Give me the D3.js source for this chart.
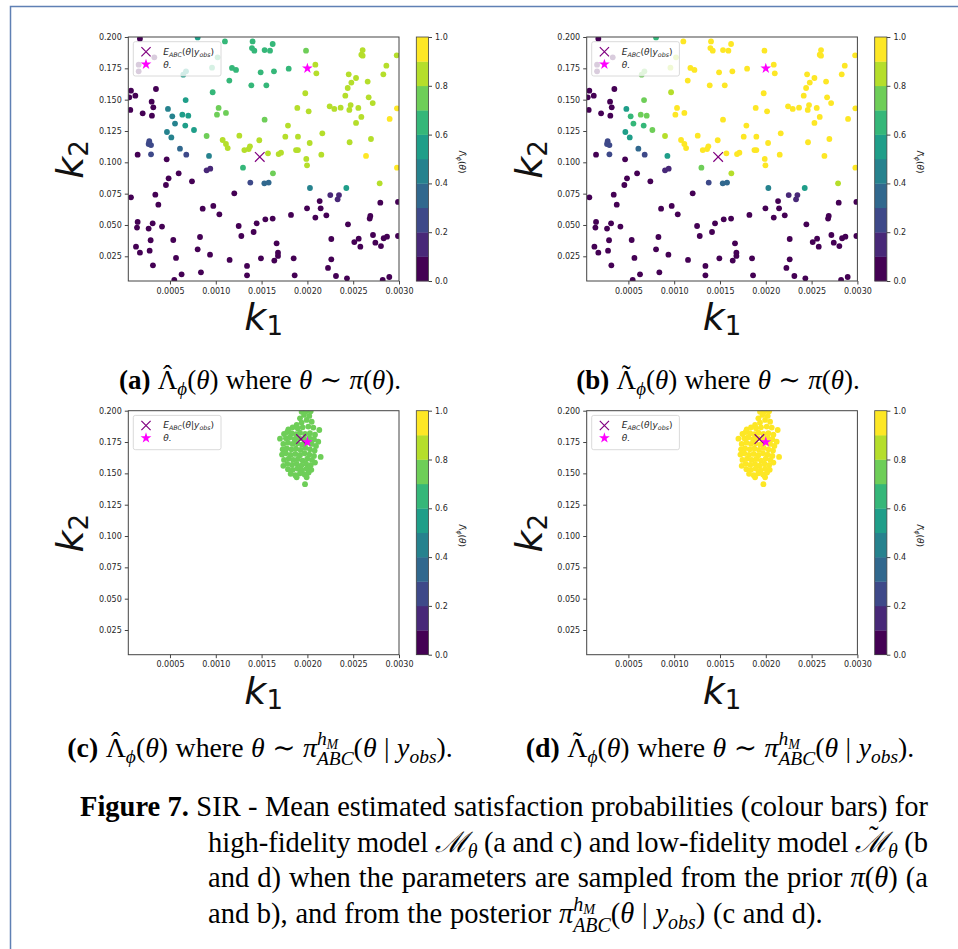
<!DOCTYPE html>
<html>
<head>
<meta charset="utf-8">
<script src="https://cdn.jsdelivr.net/npm/d3@7"></script>
<style>
  body { margin: 0; background: #fff; }
  svg text { font-family: "DejaVu Sans", sans-serif; }
  .cap text { font-family: "Liberation Serif", "DejaVu Serif", serif; fill: #000; }
</style>
</head>
<body>
<svg id="fig" width="958" height="949"></svg>
<script>
// prior samples, shared by (a) and (b)
var priorK1 = [
0.000172,0.000802,0.001100,0.001402,0.001395,0.001421,0.001533,0.001592,0.001621,0.001985,
0.002603,0.002589,0.002603,0.002975,0.002862,0.002829,0.002087,0.002098,0.001177,0.001221,
0.001148,0.001490,0.001635,0.001796,0.001388,0.001552,0.002451,0.002531,0.002480,0.002658,
0.002440,0.002414,0.002669,0.002713,0.002472,0.002458,0.002556,0.002978,0.002243,0.002294,
0.002363,0.001890,0.002014,0.002589,0.002531,0.002898,0.001977,0.001533,0.001788,0.002163,
0.001759,0.001897,0.002025,0.002694,0.002461,0.001876,0.001897,0.001686,0.001712,0.001570,
0.002152,0.002640,0.001988,0.001996,0.002978,0.002789,0.000966,0.001031,0.001013,0.001111,
0.001475,0.000900,0.001257,0.001075,0.001111,0.001130,0.001312,0.001359,0.001373,0.001297,
0.001624,0.000671,0.000478,0.000525,0.000635,0.000700,0.000555,0.000667,0.000762,0.000467,
0.000515,0.000609,0.000678,0.000274,0.000267,0.000293,0.000293,0.000926,0.000900,0.000940,
0.001377,0.001530,0.001577,0.002028,0.002425,0.002250,0.002345,0.002330,0.000158,0.000158,
0.000329,0.000675,0.000645,0.000959,0.001020,
0.000074,0.000056,0.000122,0.000067,0.000202,0.000347,0.000300,0.000318,0.000303,0.000147,
0.000464,0.000595,0.000485,0.000456,0.000740,0.000074,0.000340,0.000373,0.001202,0.000857,
0.000973,0.001039,0.000147,0.000140,0.000311,0.000267,0.000413,0.001250,0.001279,0.001413,
0.001446,0.001541,0.001621,0.000828,0.000536,0.000289,0.000129,0.000172,0.000278,0.000802,
0.000937,0.000566,0.001151,0.001493,0.001341,0.000314,0.000627,0.000838,0.001341,0.000547,
0.002134,0.002796,0.002989,0.001996,0.002145,0.002087,0.002207,0.001821,0.002443,0.002687,
0.002680,0.002989,0.002716,0.002833,0.002869,0.002742,0.002803,0.002261,0.002512,0.002560,
0.002578,0.001664,0.001679,0.001679,0.001639,0.001850,0.002261,0.002225,0.002312,0.001861,
0.002432,0.002822,0.002894
];
var priorK2 = [
0.1987,0.1997,0.1965,0.1965,0.1912,0.1891,0.1896,0.1891,0.1944,0.1891,
0.1896,0.1859,0.1851,0.1854,0.1771,0.1702,0.1779,0.1710,0.1753,0.1737,
0.1652,0.1718,0.1726,0.1747,0.1614,0.1614,0.1702,0.1673,0.1636,0.1644,
0.1593,0.1532,0.1519,0.1473,0.1457,0.1418,0.1434,0.1431,0.1447,0.1426,
0.1436,0.1434,0.1407,0.1362,0.1314,0.1346,0.1551,0.1340,0.1293,0.1231,
0.1205,0.1205,0.1154,0.1186,0.1160,0.1098,0.1098,0.1066,0.1077,0.1072,
0.1061,0.1051,0.1027,0.0976,0.0957,0.0832,0.1559,0.1434,0.1380,0.1394,
0.1176,0.1210,0.1213,0.1178,0.1146,0.1114,0.1098,0.1106,0.1128,0.0957,
0.0912,0.1497,0.1426,0.1367,0.1380,0.1372,0.1309,0.1293,0.1258,0.1242,
0.1199,0.1109,0.1061,0.1168,0.1146,0.1138,0.1064,0.1051,0.0936,0.0949,
0.0838,0.0832,0.0838,0.0795,0.0795,0.0739,0.0739,0.0705,0.1779,0.1726,
0.1838,0.1726,0.1699,0.1755,0.1838,
0.1572,0.1519,0.1532,0.1418,0.1391,0.1585,0.1484,0.1439,0.1372,0.1061,
0.1024,0.0912,0.0872,0.0819,0.0848,0.0721,0.0742,0.0662,0.0753,0.0630,
0.0652,0.0585,0.0524,0.0479,0.0513,0.0471,0.0487,0.0492,0.0412,0.0444,
0.0513,0.0545,0.0551,0.0404,0.0380,0.0378,0.0327,0.0279,0.0295,0.0306,
0.0263,0.0237,0.0221,0.0234,0.0173,0.0178,0.0106,0.0122,0.0098,0.0061,
0.0691,0.0678,0.0684,0.0633,0.0633,0.0559,0.0577,0.0580,0.0505,0.0572,
0.0551,0.0412,0.0420,0.0394,0.0407,0.0359,0.0332,0.0388,0.0364,0.0391,
0.0327,0.0354,0.0279,0.0253,0.0216,0.0234,0.0226,0.0157,0.0093,0.0098,
0.0074,0.0061,0.0085
];
// mean satisfaction probability, high-fidelity model (a)
var priorSatHF = [
0.02,0.55,0.64,0.66,0.65,0.67,0.66,0.67,0.65,0.74,
0.86,0.85,0.86,0.88,0.87,0.86,0.82,0.83,0.64,0.65,
0.66,0.69,0.68,0.69,0.68,0.69,0.85,0.85,0.86,0.86,
0.85,0.85,0.87,0.87,0.86,0.86,0.86,0.91,0.84,0.85,
0.85,0.82,0.83,0.87,0.87,0.91,0.81,0.77,0.81,0.85,
0.81,0.84,0.85,0.88,0.89,0.84,0.84,0.83,0.83,0.82,
0.86,0.92,0.85,0.85,0.91,0.82,0.65,0.72,0.73,0.74,
0.81,0.71,0.81,0.80,0.81,0.81,0.83,0.84,0.84,0.65,
0.78,0.56,0.44,0.46,0.57,0.58,0.45,0.55,0.59,0.43,
0.44,0.33,0.24,0.22,0.23,0.21,0.22,0.47,0.15,0.16,
0.24,0.32,0.33,0.42,0.55,0.16,0.17,0.15,0.03,0.02,
0.03,0.54,0.53,0.63,0.64,
0.01,0.02,0.03,0.01,0.04,0.02,0.05,0.03,0.02,0.06,
0.04,0.03,0.02,0.01,0.05,0.02,0.03,0.01,0.04,0.02,
0.03,0.02,0.01,0.01,0.02,0.03,0.01,0.02,0.01,0.02,
0.03,0.04,0.03,0.01,0.02,0.01,0.01,0.00,0.01,0.01,
0.02,0.01,0.01,0.02,0.01,0.00,0.01,0.01,0.00,0.00,
0.05,0.04,0.03,0.04,0.05,0.03,0.04,0.03,0.02,0.03,
0.03,0.02,0.02,0.02,0.02,0.01,0.01,0.01,0.02,0.02,
0.01,0.01,0.01,0.01,0.01,0.01,0.01,0.01,0.00,0.00,
0.00,0.01,0.01
];
// mean satisfaction probability, low-fidelity model (b)
var priorSatLF = [
0.03,0.66,0.93,0.95,0.94,0.95,0.96,0.95,0.94,0.96,
0.97,0.96,0.97,0.98,0.97,0.97,0.96,0.96,0.92,0.93,
0.93,0.95,0.95,0.96,0.94,0.95,0.97,0.97,0.97,0.98,
0.97,0.97,0.98,0.98,0.97,0.97,0.97,0.98,0.97,0.97,
0.97,0.96,0.96,0.98,0.98,0.98,0.96,0.95,0.96,0.97,
0.96,0.97,0.97,0.98,0.98,0.97,0.97,0.96,0.96,0.96,
0.97,0.98,0.97,0.97,0.98,0.86,0.84,0.93,0.93,0.94,
0.95,0.85,0.94,0.93,0.94,0.94,0.95,0.95,0.95,0.76,
0.86,0.74,0.55,0.64,0.73,0.74,0.65,0.68,0.75,0.54,
0.56,0.36,0.26,0.23,0.24,0.22,0.23,0.56,0.17,0.18,
0.26,0.34,0.35,0.44,0.58,0.17,0.18,0.16,0.04,0.03,
0.04,0.73,0.72,0.86,0.87,
0.02,0.03,0.04,0.02,0.05,0.03,0.06,0.04,0.03,0.07,
0.05,0.04,0.03,0.02,0.06,0.03,0.04,0.02,0.05,0.03,
0.04,0.03,0.02,0.02,0.03,0.04,0.02,0.03,0.02,0.03,
0.04,0.05,0.04,0.02,0.03,0.02,0.02,0.01,0.02,0.02,
0.03,0.02,0.02,0.03,0.02,0.01,0.02,0.02,0.01,0.01,
0.06,0.05,0.04,0.05,0.06,0.04,0.05,0.04,0.03,0.04,
0.04,0.03,0.03,0.03,0.03,0.02,0.02,0.02,0.03,0.03,
0.02,0.02,0.02,0.02,0.02,0.02,0.02,0.02,0.01,0.01,
0.01,0.02,0.02
];

// ABC posterior samples, shared by (c) and (d)
var postK1 = [
0.001937,0.001985,0.002036,0.001963,0.002021,0.001919,0.001992,0.002047,0.001937,0.001883,
0.001792,0.001839,0.001894,0.001948,0.002010,0.002065,0.002130,
0.001745,0.001781,0.001828,0.001876,0.001919,0.001974,0.002028,0.002083,0.001701,
0.001766,0.001810,0.001861,0.001912,0.001963,0.002021,0.002072,0.002119,
0.001737,0.001788,0.001839,0.001890,0.001941,0.001992,0.002047,0.002094,
0.001730,0.001774,0.001825,0.001876,0.001926,0.001977,0.002028,0.002079,
0.001723,0.001766,0.001817,0.001868,0.001919,0.001970,0.002021,0.002072,0.002145,
0.001745,0.001796,0.001846,0.001897,0.001948,0.001999,0.002050,
0.001737,0.001781,0.001832,0.001883,0.001934,0.001985,0.002036,0.002083,
0.001788,0.001839,0.001890,0.001941,0.001992,0.002043,
0.001817,0.001868,0.001919,0.001970,0.002014,
0.001883,0.001992,0.001974
];
var postK2 = [
0.1992,0.1995,0.1995,0.1966,0.1958,0.1939,0.1926,0.1912,0.1905,0.1886,
0.1851,0.1867,0.1859,0.1867,0.1873,0.1865,0.1846,
0.1814,0.1830,0.1820,0.1812,0.1825,0.1814,0.1820,0.1809,0.1777,
0.1780,0.1788,0.1772,0.1780,0.1772,0.1782,0.1772,0.1753,
0.1735,0.1745,0.1735,0.1740,0.1729,0.1745,0.1735,0.1719,
0.1692,0.1700,0.1692,0.1698,0.1687,0.1703,0.1692,0.1682,
0.1650,0.1660,0.1647,0.1655,0.1645,0.1660,0.1650,0.1639,0.1631,
0.1607,0.1618,0.1607,0.1615,0.1602,0.1618,0.1607,
0.1560,0.1576,0.1568,0.1576,0.1562,0.1578,0.1565,0.1586,
0.1533,0.1528,0.1538,0.1523,0.1538,0.1528,
0.1496,0.1485,0.1501,0.1491,0.1507,
0.1469,0.1469,0.1414
];
var postSatHF = [
0.75,0.74,0.75,0.76,0.75,0.74,0.76,0.75,0.76,0.75,
0.74,0.75,0.76,0.77,0.76,0.75,0.74,
0.75,0.76,0.77,0.77,0.76,0.77,0.76,0.75,0.74,
0.76,0.77,0.77,0.78,0.77,0.77,0.76,0.75,
0.76,0.77,0.78,0.78,0.78,0.77,0.76,0.75,
0.76,0.77,0.78,0.78,0.78,0.78,0.77,0.76,
0.76,0.77,0.78,0.78,0.79,0.78,0.77,0.76,0.75,
0.77,0.78,0.78,0.79,0.78,0.78,0.77,
0.76,0.77,0.78,0.79,0.79,0.78,0.77,0.76,
0.78,0.79,0.79,0.79,0.78,0.77,
0.78,0.79,0.79,0.78,0.77,
0.79,0.78,0.78
];
var postSatLF = [
0.96,0.95,0.96,0.97,0.96,0.95,0.97,0.96,0.97,0.96,
0.95,0.96,0.97,0.97,0.97,0.96,0.95,
0.96,0.97,0.97,0.98,0.97,0.97,0.97,0.96,0.95,
0.97,0.97,0.98,0.98,0.98,0.97,0.97,0.96,
0.96,0.97,0.98,0.98,0.98,0.98,0.97,0.96,
0.97,0.97,0.98,0.98,0.98,0.98,0.97,0.97,
0.96,0.97,0.98,0.98,0.98,0.98,0.97,0.97,0.96,
0.97,0.98,0.98,0.98,0.98,0.97,0.97,
0.96,0.97,0.98,0.98,0.98,0.98,0.97,0.96,
0.97,0.98,0.98,0.98,0.97,0.97,
0.97,0.98,0.98,0.97,0.97,
0.98,0.97,0.97
];

var eAbcPrior = [0.00148, 0.1043];   // E_ABC(theta | y_obs) in (a), (b)
var eAbcPost = [0.00193, 0.1774];    // E_ABC(theta | y_obs) in (c), (d)
var thetaTrue = [0.002, 0.175];      // theta.
var k1Ticks = [0.0005, 0.0010, 0.0015, 0.0020, 0.0025, 0.0030];
var k2Ticks = [0.025, 0.050, 0.075, 0.100, 0.125, 0.150, 0.175, 0.200];
var cbarTicks = [0.0, 0.2, 0.4, 0.6, 0.8, 1.0];
var k1Domain = [0.000045, 0.003];
var k2Domain = [0.0053, 0.2];

var svg = d3.select("#fig");
var W = 270.7, H = 244;

// 10-level discrete viridis, like the colour bars
var levels = d3.range(10).map(function(i) { return d3.interpolateViridis(i / 9); });
var color = d3.scaleQuantize().domain([0, 1]).range(levels);

// frame of the page
svg.append("path").attr("d", "M10.5,949V6.5H958")
  .attr("fill", "none").attr("stroke", "#5f80b4").attr("stroke-width", 1.5);

function crossPath(cx, cy, r) {
  return "M" + (cx - r) + "," + (cy - r) + "L" + (cx + r) + "," + (cy + r) +
         "M" + (cx - r) + "," + (cy + r) + "L" + (cx + r) + "," + (cy - r);
}

function drawPanel(p) {
  var g = svg.append("g").attr("transform", "translate(" + p.ox + "," + p.oy + ")");
  var x = d3.scaleLinear().domain(k1Domain).range([0, W]);
  var y = d3.scaleLinear().domain(k2Domain).range([H, 0]);

  g.append("clipPath").attr("id", "clip" + p.id)
    .append("rect").attr("width", W).attr("height", H);

  var pts = g.append("g").attr("clip-path", "url(#clip" + p.id + ")");
  pts.selectAll("circle").data(p.k1).enter().append("circle")
    .attr("cx", function(d) { return x(d); })
    .attr("cy", function(d, i) { return y(p.k2[i]); })
    .attr("r", 2.9)
    .attr("fill", function(d, i) { return color(p.sat[i]); });

  pts.append("path").attr("d", crossPath(x(p.e[0]), y(p.e[1]), 4.8))
    .attr("stroke", "purple").attr("stroke-width", 1.2).attr("fill", "none");
  pts.append("path").attr("d", d3.symbol(d3.symbolStar, 36)())
    .attr("transform", "translate(" + x(thetaTrue[0]) + "," + y(thetaTrue[1]) + ")")
    .attr("fill", "#ff00ff");

  // axes
  var xa = g.append("g").attr("transform", "translate(0," + H + ")")
    .call(d3.axisBottom(x).tickValues(k1Ticks).tickFormat(d3.format(".4f")).tickSize(3.5).tickPadding(3.5));
  var ya = g.append("g")
    .call(d3.axisLeft(y).tickValues(k2Ticks).tickFormat(d3.format(".3f")).tickSize(3.5).tickPadding(3));
  [xa, ya].forEach(function(a) {
    a.select(".domain").remove();
    a.attr("font-family", "DejaVu Sans").attr("font-size", 8);
    a.selectAll("line").attr("stroke", "#444");
    a.selectAll("text").attr("fill", "#262626");
  });
  g.append("rect").attr("width", W).attr("height", H)
    .attr("fill", "none").attr("stroke", "#444").attr("stroke-width", 1);

  // axis labels
  var t1 = g.append("text").attr("x", W / 2).attr("y", H + 49).attr("text-anchor", "middle").attr("fill", "#111");
  t1.append("tspan").attr("font-size", 38).attr("font-style", "italic").text("k");
  t1.append("tspan").attr("font-size", 26).attr("dy", 5).text("1");
  var t2 = g.append("text").attr("text-anchor", "middle").attr("fill", "#111")
    .attr("transform", "translate(-45," + (H / 2 + 0.5) + ") rotate(-90)");
  t2.append("tspan").attr("font-size", 38).attr("font-style", "italic").text("k");
  t2.append("tspan").attr("font-size", 26).attr("dy", 5).text("2");

  // legend
  var lg = g.append("g");
  lg.append("rect").attr("x", 5).attr("y", 4.7).attr("width", 87.7).attr("height", 34.3).attr("rx", 2)
    .attr("fill", "#fff").attr("fill-opacity", 0.8).attr("stroke", "#d0d0d0").attr("stroke-width", 0.8);
  lg.append("path").attr("d", crossPath(17.7, 14.8, 4.6))
    .attr("stroke", "purple").attr("stroke-width", 1.2).attr("fill", "none");
  lg.append("path").attr("d", d3.symbol(d3.symbolStar, 36)()).attr("transform", "translate(17.7,27.3)")
    .attr("fill", "#ff00ff");
  var l1 = lg.append("text").attr("x", 35).attr("y", 17.8).attr("font-size", 9).attr("fill", "#262626");
  l1.append("tspan").attr("font-style", "italic").text("E");
  l1.append("tspan").attr("font-style", "italic").attr("font-size", 6.3).attr("dy", 2).text("ABC");
  l1.append("tspan").attr("dy", -2).text("(");
  l1.append("tspan").attr("font-style", "italic").text("θ");
  l1.append("tspan").text("|");
  l1.append("tspan").attr("font-style", "italic").text("y");
  l1.append("tspan").attr("font-style", "italic").attr("font-size", 6.3).attr("dy", 2).text("obs");
  l1.append("tspan").attr("dy", -2).text(")");
  lg.append("text").attr("x", 35).attr("y", 30.5).attr("font-size", 9).attr("fill", "#262626")
    .attr("font-style", "italic").text("θ.");

  // colour bar
  var cx0 = 288, cw = 12.2;
  var cb = d3.scaleLinear().domain([0, 1]).range([H, 0]);
  var cg = g.append("g").attr("transform", "translate(" + cx0 + ",0)");
  cg.selectAll("rect.band").data(levels).enter().append("rect").attr("class", "band")
    .attr("x", 0).attr("width", cw)
    .attr("y", function(d, i) { return cb((i + 1) / 10); })
    .attr("height", function(d, i) { return cb(i / 10) - cb((i + 1) / 10) + 0.3; })
    .attr("fill", function(d) { return d; });
  cg.append("rect").attr("width", cw).attr("height", H)
    .attr("fill", "none").attr("stroke", "#444").attr("stroke-width", 0.8);
  var ca = cg.append("g").attr("transform", "translate(" + cw + ",0)")
    .call(d3.axisRight(cb).tickValues(cbarTicks).tickFormat(d3.format(".1f")).tickSize(3.5).tickPadding(3));
  ca.select(".domain").remove();
  ca.attr("font-family", "DejaVu Sans").attr("font-size", 8);
  ca.selectAll("line").attr("stroke", "#444");
  ca.selectAll("text").attr("fill", "#262626");
  var cl = cg.append("text").attr("text-anchor", "middle").attr("font-size", 9).attr("fill", "#262626")
    .attr("transform", "translate(42.5," + (H / 2 + 3) + ") rotate(90)");
  cl.append("tspan").text("Λ" + p.acc);
  cl.append("tspan").attr("font-size", 6.3).attr("dy", 2).attr("font-style", "italic").text("ϕ");
  cl.append("tspan").attr("dy", -2).text("(");
  cl.append("tspan").attr("font-style", "italic").text("θ");
  cl.append("tspan").text(")");
}

drawPanel({ id: "a", ox: 128.3, oy: 37, k1: priorK1, k2: priorK2, sat: priorSatHF, e: eAbcPrior, acc: "\u0302" });
drawPanel({ id: "b", ox: 586.7, oy: 37, k1: priorK1, k2: priorK2, sat: priorSatLF, e: eAbcPrior, acc: "\u0303" });
drawPanel({ id: "c", ox: 128.3, oy: 410.7, k1: postK1, k2: postK2, sat: postSatHF, e: eAbcPost, acc: "\u0302" });
drawPanel({ id: "d", ox: 586.7, oy: 410.7, k1: postK1, k2: postK2, sat: postSatLF, e: eAbcPost, acc: "\u0303" });

// ---- captions: small math layout with measured pieces ----
function mathText(tokens, fs, x0, y0, o) {
  o = o || {};
  var g = svg.append("g").attr("class", "cap");
  var items = [], nat = 0, nsp = 0, sp = fs * 0.27;
  tokens.forEach(function(tk) {
    if (tk === " ") { items.push(null); nat += sp; nsp++; return; }
    var rows = tk.stack || [[tk]];
    var built = rows.map(function(r) {
      var off = 0, ts = [];
      r.forEach(function(s) {
        var f = fs * (s.s || 1), yy = y0 + (s.dy || 0) * fs;
        var t = g.append("text").attr("y", yy).attr("font-size", f).text(s.t);
        if (s.b) t.attr("font-weight", "bold");
        if (s.i) t.attr("font-style", "italic");
        var w = t.node().getComputedTextLength();
        ts.push({ node: t, off: off });
        if (s.acc) {
          var a = g.append("text").attr("y", yy - f * 0.2).attr("font-size", f)
            .attr("text-anchor", "middle").text(s.acc);
          ts.push({ node: a, off: off + w / 2 + (s.i ? f * 0.08 : 0) });
        }
        off += w;
      });
      return { ts: ts, w: off };
    });
    var w = d3.max(built, function(r) { return r.w; });
    items.push({ rows: built, w: w });
    nat += w;
  });
  var extra = o.width ? (o.width - nat) / nsp : 0;
  var x = x0 - (o.center ? nat / 2 : 0);
  items.forEach(function(it) {
    if (!it) { x += sp + extra; return; }
    it.rows.forEach(function(r) { r.ts.forEach(function(t) { t.node.attr("x", x + t.off); }); });
    x += it.w;
  });
}
function words(s) {
  var out = [];
  s.split(" ").forEach(function(w, i) { if (i) out.push(" "); out.push({ t: w }); });
  return out;
}
function lam(acc) {
  return [{ t: "Λ", acc: acc }, { t: "ϕ", i: 1, s: 0.7, dy: 0.22 }, { t: "(" }, { t: "θ", i: 1 }, { t: ")" }];
}
var piPost = [
  { t: "π", i: 1 },
  { stack: [[{ t: "h", i: 1, s: 0.7, dy: -0.42 }, { t: "M", i: 1, s: 0.5, dy: -0.3 }],
            [{ t: "ABC", i: 1, s: 0.7, dy: 0.3 }]] },
  { t: "(" }, { t: "θ", i: 1 }, " ", { t: "|" }, " ", { t: "y", i: 1 },
  { t: "obs", i: 1, s: 0.7, dy: 0.22 }, { t: ")" }
];
var where = [" ", { t: "where" }, " ", { t: "θ", i: 1 }, " ", { t: "∼" }, " "];
var piPrior = [{ t: "π", i: 1 }, { t: "(" }, { t: "θ", i: 1 }, { t: ")" }];

var subFs = 27;
mathText([{ t: "(a)", b: 1 }, " "].concat(lam("ˆ"), where, piPrior, [{ t: "." }]), subFs, 260, 389, { center: true });
mathText([{ t: "(b)", b: 1 }, " "].concat(lam("˜"), where, piPrior, [{ t: "." }]), subFs, 718, 389, { center: true });
mathText([{ t: "(c)", b: 1 }, " "].concat(lam("ˆ"), where, piPost, [{ t: "." }]), 27.8, 260, 757, { center: true });
mathText([{ t: "(d)", b: 1 }, " "].concat(lam("˜"), where, piPost, [{ t: "." }]), 27.8, 720, 757, { center: true });

var capFs = 28.5;
var thetaSub = { t: "θ", i: 1, s: 0.7, dy: 0.22 };
mathText([{ t: "Figure", b: 1 }, " ", { t: "7.", b: 1 }, " "]
  .concat(words("SIR - Mean estimated satisfaction probabilities (colour bars) for")),
  capFs, 80, 816, { width: 848 });
mathText(words("high-fidelity model").concat([" ", { t: "ℳ", i: 1 }, thetaSub, " "],
  words("(a and c) and low-fidelity model"), [" ", { t: "ℳ", i: 1, acc: "˜" }, thetaSub, " ", { t: "(b" }]),
  capFs, 208, 852, { width: 720 });
mathText(words("and d) when the parameters are sampled from the prior")
  .concat([" "], piPrior, [" ", { t: "(a" }]), capFs, 208, 887, { width: 720 });
mathText(words("and b), and from the posterior").concat([" "], piPost, [" "], words("(c and d).")),
  capFs, 208, 923);
</script>
</body>
</html>
